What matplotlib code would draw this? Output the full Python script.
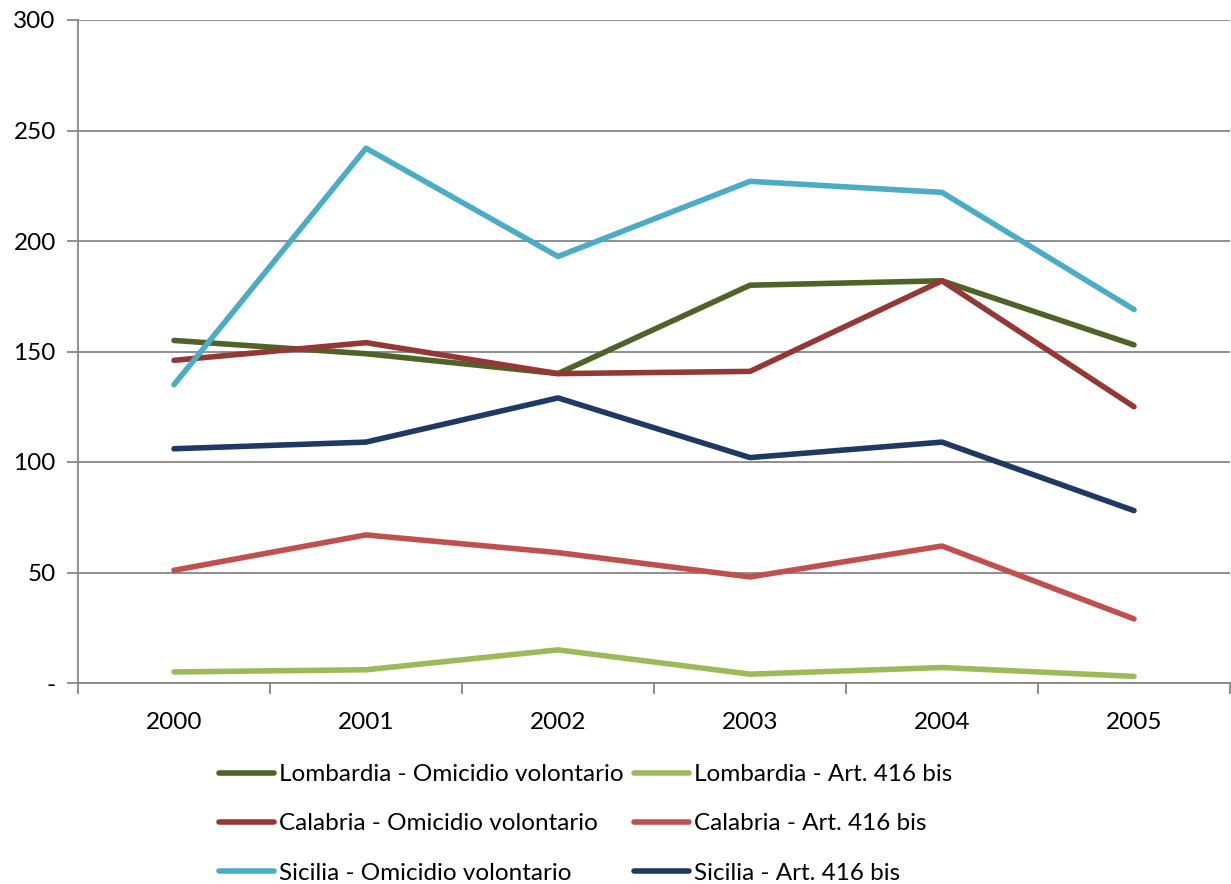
import matplotlib
matplotlib.use("Agg")
import matplotlib.pyplot as plt
from matplotlib.ticker import FuncFormatter

years = ["2000", "2001", "2002", "2003", "2004", "2005"]
lombardia_omicidio = [155, 149, 140, 180, 182, 153]
lombardia_art416 = [5, 6, 15, 4, 7, 3]
calabria_omicidio = [146, 154, 140, 141, 182, 125]
calabria_art416 = [51, 67, 59, 48, 62, 29]
sicilia_omicidio = [135, 242, 193, 227, 222, 169]
sicilia_art416 = [106, 109, 129, 102, 109, 78]

series = [
    ("Lombardia - Omicidio volontario", lombardia_omicidio, "#4F6228"),
    ("Lombardia - Art. 416 bis", lombardia_art416, "#9BBB59"),
    ("Calabria - Omicidio volontario", calabria_omicidio, "#953735"),
    ("Calabria - Art. 416 bis", calabria_art416, "#C0504D"),
    ("Sicilia - Omicidio volontario", sicilia_omicidio, "#4BACC6"),
    ("Sicilia - Art. 416 bis", sicilia_art416, "#1F3864"),
]

plt.rcParams['font.family'] = ['Lato', 'DejaVu Sans']

fig = plt.figure(figsize=(12.31, 8.84), dpi=100)
ax = fig.add_axes([78/1231, 1-683/884, (1230-78)/1231, (683-20)/884])

x = list(range(len(years)))
handles = {}
for label, vals, color in series:
    h, = ax.plot(x, vals, color=color, lw=4, solid_capstyle='round', label=label, zorder=3)
    handles[label] = h

ax.set_xlim(-0.5, len(years) - 0.5)
ax.set_ylim(0, 300)
ax.set_yticks(range(0, 301, 50))
ax.yaxis.set_major_formatter(FuncFormatter(lambda v, p: "-" if v == 0 else f"{int(v)}"))
ax.set_xticks(x)
ax.set_xticklabels(years)
ax.set_xticks([i - 0.5 for i in range(len(years) + 1)], minor=True)
ax.tick_params(axis='x', which='major', length=0, pad=21, labelsize=17.5)
ax.tick_params(axis='x', which='minor', length=8, width=1.3, color='#868686', direction='out')
ax.tick_params(axis='y', length=8, width=1.3, color='#868686', labelsize=17.5, pad=8)
ax.grid(axis='y', color='#868686', lw=1.3, zorder=1)
for s in ['top', 'right']:
    ax.spines[s].set_visible(False)
for s in ['left', 'bottom']:
    ax.spines[s].set_color('#868686')
    ax.spines[s].set_linewidth(1.3)

order = [series[0][0], series[2][0], series[4][0], series[1][0], series[3][0], series[5][0]]
fig.legend([handles[k] for k in order], order, ncol=2, loc='upper left',
           bbox_to_anchor=(219/1231, 1-764/884), frameon=False, fontsize=17.5,
           handlelength=2.25, handletextpad=0.2, columnspacing=0.45, labelspacing=1.17,
           borderaxespad=0, borderpad=0)

fig.savefig("out.png", dpi=100)
